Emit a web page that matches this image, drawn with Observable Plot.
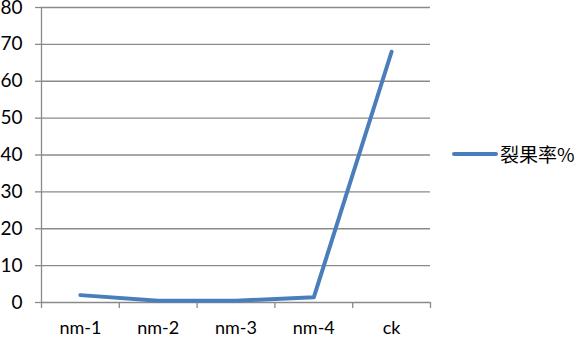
<!DOCTYPE html>
<html><head><meta charset="utf-8">
<script src="https://cdn.jsdelivr.net/npm/d3@7"></script>
<script src="https://cdn.jsdelivr.net/npm/@observablehq/plot@0.6"></script>
<style>
body{margin:0;background:#fff;}
#wrap{position:relative;width:578px;height:337px;font-family:Lato,"Noto Sans CJK SC",sans-serif;overflow:hidden;}
#legend{position:absolute;left:452px;top:140px;display:flex;align-items:center;font-size:19px;color:#000;font-family:"Noto Sans CJK SC",sans-serif;}
#legend .sw{width:46px;height:4px;background:#4a7ebb;border-radius:2px;margin-right:2px;}
</style></head>
<body><div id="wrap"><div id="legend"><div class="sw"></div><span>裂果率%</span></div></div>
<script>
const categories = ["nm-1","nm-2","nm-3","nm-4","ck"];
const seriesName = "裂果率%";
const values = [2, 0.5, 0.5, 1.4, 68];
const yTicks = [0,10,20,30,40,50,60,70,80];

const data = categories.map((c,i)=>({i, c, v: values[i]}));
const grid = "#8a8a8a";
const chart = Plot.plot({
  width: 578, height: 337,
  marginLeft: 41, marginRight: 148, marginTop: 7, marginBottom: 35,
  style: {fontFamily: 'Lato, sans-serif', fontSize: "16px", color: "#000", overflow: "visible"},
  x: {type: "linear", domain: [0, categories.length]},
  y: {domain: [0, 80]},
  marks: [
    Plot.ruleY(yTicks, {stroke: grid, strokeWidth: 1.3, x1: 0, x2: categories.length}),
    Plot.ruleX([0], {stroke: grid, strokeWidth: 1.3}),
    Plot.axisY({ticks: yTicks, tickSize: 6, tickPadding: 13, stroke: grid, strokeWidth: 1.3, fontSize: 19, label: null}),
    Plot.axisX({ticks: d3.range(categories.length+1), tickSize: 6, tickFormat: () => "", stroke: grid, strokeWidth: 1.3, label: null}),
    Plot.axisX({ticks: categories.map((c,i)=>i+0.5), tickSize: 0, tickPadding: 19, tickFormat: d => categories[Math.floor(d)], fontSize: 18, label: null}),
    Plot.line(data, {x: d => d.i + 0.5, y: "v", stroke: "#4a7ebb", strokeWidth: 4, strokeLinejoin: "round", strokeLinecap: "round"})
  ]
});
document.getElementById("wrap").prepend(chart);
chart.style.position = "absolute"; chart.style.left = "0"; chart.style.top = "0";
</script></body></html>
